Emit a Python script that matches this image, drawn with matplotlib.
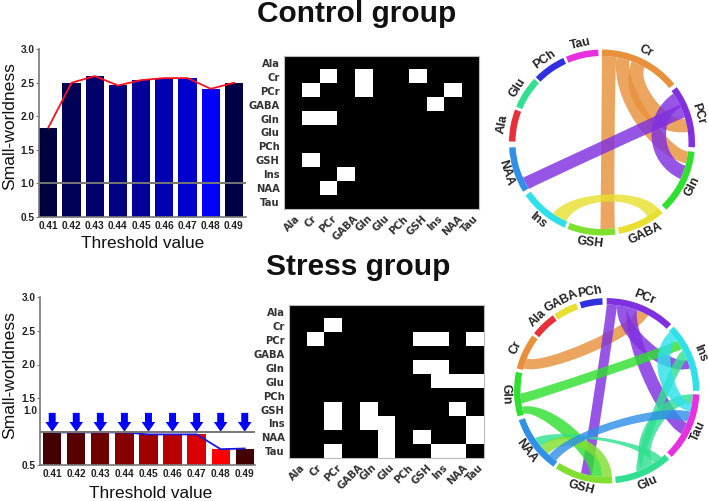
import numpy as np
import matplotlib
matplotlib.use("Agg")
import matplotlib.pyplot as plt
from matplotlib.patches import PathPatch, Wedge
from matplotlib.path import Path

W, H = 708, 501
thresholds = ["0.41", "0.42", "0.43", "0.44", "0.45", "0.46", "0.47", "0.48", "0.49"]
control_sw = [1.83, 2.50, 2.60, 2.46, 2.54, 2.57, 2.57, 2.41, 2.50]
stress_sw = [0.99, 0.99, 0.99, 0.99, 0.96, 0.96, 0.96, 0.74, 0.75]
control_colors = ["#00003f", "#000055", "#00006b", "#000080", "#000098", "#0000b0", "#0000cc", "#0000fa", "#000045"]
stress_colors = ["#420000", "#580000", "#6e0000", "#860000", "#a00000", "#b80000", "#d80000", "#ff0000", "#420000"]
yticks_control = [0.5, 1.0, 1.5, 2.0, 2.5, 3.0]
yticks_stress = [0.5, 1.5, 2.0, 2.5, 3.0]

metabolites = ["Ala", "Cr", "PCr", "GABA", "Gln", "Glu", "PCh", "GSH", "Ins", "NAA", "Tau"]
control_links = [("Cr", "PCr"), ("Cr", "Gln"), ("Cr", "GSH"), ("PCr", "Cr"), ("PCr", "Gln"), ("PCr", "NAA"),
                 ("GABA", "Ins"), ("Gln", "Cr"), ("Gln", "PCr"), ("GSH", "Cr"), ("Ins", "GABA"), ("NAA", "PCr")]
stress_links = [("Cr", "PCr"), ("PCr", "Cr"), ("PCr", "GSH"), ("PCr", "Ins"), ("PCr", "Tau"),
                ("Gln", "GSH"), ("Gln", "Ins"), ("Glu", "Ins"), ("Glu", "NAA"), ("Glu", "Tau"),
                ("GSH", "PCr"), ("GSH", "Gln"), ("GSH", "NAA"), ("Ins", "PCr"), ("Ins", "Gln"), ("Ins", "Glu"), ("Ins", "Tau"),
                ("NAA", "Glu"), ("NAA", "GSH"), ("NAA", "Tau"), ("Tau", "PCr"), ("Tau", "Glu"), ("Tau", "Ins"), ("Tau", "NAA")]

node_colors = {"Cr": "#e8913a", "Ala": "#e8303a", "GABA": "#e8e030", "PCh": "#3030e0", "PCr": "#8030e0",
               "Ins": "#30e0e8", "Tau": "#e830e0", "Glu": "#30e090", "GSH": "#80e030", "NAA": "#3090e8", "Gln": "#30e030"}

# node: start and end angle, clockwise from the top
control_nodes = {"Cr": (0, 51), "PCr": (53.5, 93), "Gln": (95.8, 136.3), "GABA": (139.3, 169.4), "GSH": (171.6, 201.8),
                 "Ins": (203.7, 235.3), "NAA": (238, 266.9), "Ala": (270.6, 290.8), "Glu": (292.7, 313.2),
                 "PCh": (314.6, 335.4), "Tau": (337.2, 357.7)}
stress_nodes = {"PCr": (0, 44), "Ins": (46.2, 90), "Tau": (92.3, 135.5), "Glu": (137.7, 174.4), "GSH": (176.5, 213.2),
                "NAA": (215, 251.5), "Gln": (253.9, 281.8), "Cr": (284, 306.7), "Ala": (308.4, 324.5),
                "GABA": (325.6, 340.7), "PCh": (343, 357.3)}
# colour node, a1, a2, b1, b2, curve factor of edge a2-b1, curve factor of edge b2-a1
control_chords = [("Cr", 0, 9.5, 171.4, 181, 0.9, 0.9), ("Cr", 9.7, 18.8, 96, 104, 0.75, 0.55), ("Cr", 20, 29.6, 74, 83, 0.8, 0.55),
                  ("PCr", 55.6, 66, 105.5, 115, 0.72, 0.55), ("PCr", 64, 73.2, 237.5, 246, 0.9, 0.9),
                  ("GABA", 139.5, 148.4, 204.5, 214.5, 0.7, 0.68)]
stress_chords = [("Cr", 285, 292, 20.8, 28.7, 0.8, 0.7), ("PCr", 0, 7, 190, 197.4, 0.9, 0.9), ("PCr", 7, 14, 69, 75, 0.8, 0.65),
                 ("PCr", 14, 20.8, 111.8, 120, 0.8, 0.65), ("Gln", 261.6, 268.2, 54.4, 61, 0.9, 0.9),
                 ("Gln", 254.5, 259.4, 183, 191, 0.65, 0.8), ("Glu", 156, 159.7, 62, 69, 0.85, 0.9),
                 ("Glu", 147.5, 156, 92.3, 98.5, 0.6, 0.75), ("Glu", 140.7, 147, 230, 236.4, 0.7, 0.75),
                 ("GSH", 176.5, 183, 223, 230, 0.7, 0.6), ("NAA", 216, 222, 104, 111, 0.6, 0.65), ("Ins", 47, 54, 98.5, 104, 0.8, 0.62)]

plt.rcParams["font.family"] = ["Liberation Sans", "DejaVu Sans"]
fig = plt.figure(figsize=(W / 100, H / 100), dpi=100)


def axes_px(l, t, r, b):
    return fig.add_axes([l / W, 1 - b / H, (r - l) / W, (b - t) / H])


def ptxt(x, y, s, **kw):
    fig.text(x / W, 1 - y / H, s, ha="center", va="center", **kw)


def bars(box, vals, colors, line_color, ticks, spacing, first):
    ax = axes_px(*box)
    x = np.arange(len(vals))
    ax.bar(x, vals, width=18.3 / spacing, color=colors, bottom=0)
    ax.plot(x, vals, color=line_color, lw=1.3, zorder=3)
    ax.axhline(1.0, color="#777777", lw=1.4, zorder=4)
    ax.set_xlim((box[0] - first) / spacing, (box[2] - first) / spacing)
    ax.set_ylim(0.5, 3.0)
    ax.set_xticks(x, thresholds, fontsize=7.3, fontweight="bold", color="#222222")
    ax.set_yticks(ticks, [f"{t:.1f}" for t in ticks], fontsize=7.3, fontweight="bold", color="#222222")
    ax.tick_params(axis="x", length=0, pad=3)
    ax.tick_params(axis="y", length=2, width=0.8, color="#777777", pad=1)
    for s in ("top", "right"):
        ax.spines[s].set_visible(False)
    for s in ("left", "bottom"):
        ax.spines[s].set_color("#777777")
        ax.spines[s].set_linewidth(1.2)
    return ax, x


ax1, _ = bars((39, 49.3, 246, 216.7), control_sw, control_colors, "#ff1020", yticks_control, 23.2, 48.3)
ax2, xs = bars((40, 297.3, 255, 465.3), stress_sw, stress_colors, "#1818e0", yticks_stress, 24.07, 52.2)
# the displaced "1.0" label of the broken axis
ax2.text(-0.012, 1.31, "1.0", transform=ax2.get_yaxis_transform(), ha="right", va="center",
         fontsize=7.3, fontweight="bold", color="#222222")
for xi in xs:
    ax2.annotate("", xy=(xi, 1.0), xytext=(xi, 1.28),
                 arrowprops=dict(facecolor="#0000ff", edgecolor="none", width=5, headwidth=9.8, headlength=7, shrink=0))

ptxt(357, 14, "Control group", fontsize=21.5, fontweight="bold", color="#111111")
ptxt(358, 267, "Stress group", fontsize=21.5, fontweight="bold", color="#111111")
ptxt(10, 126, "Small-worldness", fontsize=12.6, rotation=90, color="#111111")
ptxt(10, 375, "Small-worldness", fontsize=12.6, rotation=90, color="#111111")
ptxt(143, 244, "Threshold value", fontsize=12.4, color="#111111")
ptxt(151, 493, "Threshold value", fontsize=12.4, color="#111111")


def heat(box, links):
    ax = axes_px(*box)
    idx = {m: i for i, m in enumerate(metabolites)}
    M = np.zeros((11, 11))
    for a, b in links:
        M[idx[a], idx[b]] = 1
    ax.imshow(M, cmap="gray", vmin=0, vmax=1, aspect="auto", interpolation="nearest")
    ax.set_xticks(range(11), metabolites, rotation=45, ha="center", va="top", rotation_mode="default",
                  fontsize=7.2, fontweight="bold", family="DejaVu Sans", color="#333333")
    ax.set_yticks(range(11), metabolites, fontsize=7.2, fontweight="bold", family="DejaVu Sans", color="#333333")
    ax.tick_params(length=0, pad=3)
    for s in ax.spines.values():
        s.set_color("#bbbbbb")
        s.set_linewidth(0.8)


heat((283.7, 55.7, 479, 209.3), control_links)
heat((288.7, 305, 483.7, 458.3), stress_links)


def pt(a, r):
    t = np.radians(a)
    return np.array([r * np.sin(t), r * np.cos(t)])


def arc_pts(a, b, r, n=24):
    return [pt(v, r) for v in np.linspace(a, b, n)]


def chord_diagram(cx, cy, R, nodes, chords):
    pad = 1.25
    ax = axes_px(cx - R * pad, cy - R * pad, cx + R * pad, cy + R * pad)
    ax.set_xlim(-pad, pad)
    ax.set_ylim(-pad, pad)
    ax.axis("off")
    ax.patch.set_alpha(0)
    ri = 0.93
    for col, a1, a2, b1, b2, k1, k2 in chords:
        verts, codes = [], []
        arc1 = arc_pts(a1, a2, ri)
        arc2 = arc_pts(b1, b2, ri)
        verts += arc1
        codes += [Path.MOVETO] + [Path.LINETO] * (len(arc1) - 1)
        verts += [k1 * arc1[-1], k1 * arc2[0], arc2[0]]
        codes += [Path.CURVE4] * 3
        verts += arc2[1:]
        codes += [Path.LINETO] * (len(arc2) - 1)
        verts += [k2 * arc2[-1], k2 * arc1[0], arc1[0]]
        codes += [Path.CURVE4] * 3
        ax.add_patch(PathPatch(Path(np.array(verts), codes), facecolor=node_colors[col], edgecolor="none", alpha=0.82))
    for name, (a, b) in nodes.items():
        ax.add_patch(Wedge((0, 0), 1.0, 90 - b, 90 - a, width=1 - ri, facecolor=node_colors[name], edgecolor="none"))
        m = (a + b) / 2
        rot = -m if (m < 90 or m > 270) else 180 - m
        x, y = pt(m, 1.085)
        ax.text(x, y, name, rotation=rot, ha="center", va="center", rotation_mode="anchor",
                fontsize=8.8, fontweight="bold", color="#222222")


chord_diagram(602, 142.5, 93, control_nodes, control_chords)
chord_diagram(606.7, 390.8, 92.7, stress_nodes, stress_chords)

fig.savefig("out.png", dpi=100)
